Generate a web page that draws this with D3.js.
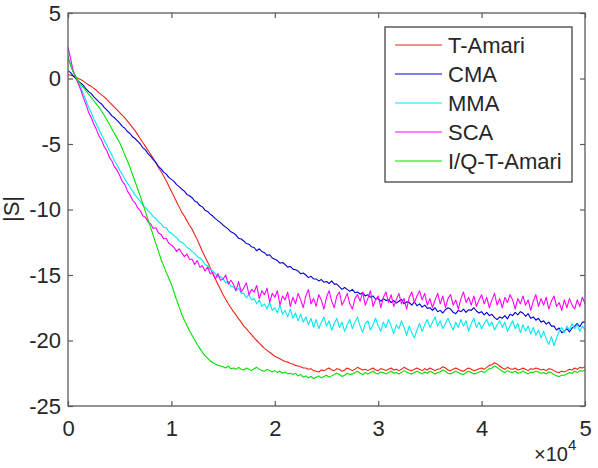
<!DOCTYPE html>
<html>
<head>
<meta charset="utf-8">
<script src="https://cdn.jsdelivr.net/npm/d3@7"></script>
<style>
  html, body { margin: 0; padding: 0; background: #fff; }
  svg { display: block; font-family: "Liberation Sans", Arial, Helvetica, sans-serif; }
</style>
</head>
<body>
<div id="chart"></div>
<script>
// Iteration grid (every 250 iterations, 0 .. 50000)
const iterations = d3.range(0, 50001, 250);

const xTicks = [0, 10000, 20000, 30000, 40000, 50000];
const xTickLabels = ['0', '1', '2', '3', '4', '5'];
const yTicks = [5, 0, -5, -10, -15, -20, -25];

const seriesNames = ['T-Amari', 'CMA', 'MMA', 'SCA', 'I/Q-T-Amari'];
const seriesColors = ['#ec2418', '#0000d8', '#00e8f0', '#ff00ff', '#00e000'];

// |S| values, one row per 1000 iterations
const tAmari = [
  0.3, 0.25, 0.2, 0.1,
  0.0, -0.1, -0.2, -0.35,
  -0.5, -0.6, -0.75, -0.9,
  -1.1, -1.25, -1.4, -1.6,
  -1.8, -2.0, -2.2, -2.4,
  -2.6, -2.8, -3.0, -3.25,
  -3.5, -3.75, -4.0, -4.3,
  -4.6, -4.9, -5.2, -5.5,
  -5.8, -6.1, -6.45, -6.8,
  -7.1, -7.45, -7.8, -8.2,
  -8.6, -9.0, -9.4, -9.8,
  -10.2, -10.5, -10.85, -11.2,
  -11.5, -11.9, -12.3, -12.75,
  -13.2, -13.6, -14.0, -14.45,
  -14.9, -15.3, -15.7, -16.1,
  -16.5, -16.85, -17.2, -17.5,
  -17.8, -18.05, -18.35, -18.6,
  -18.9, -19.1, -19.35, -19.55,
  -19.8, -20.0, -20.2, -20.4,
  -20.6, -20.75, -20.9, -21.05,
  -21.2, -21.3, -21.4, -21.5,
  -21.6, -21.65, -21.75, -21.8,
  -21.9, -21.95, -22.0, -22.1,
  -22.1, -22.2, -22.15, -22.3,
  -22.35, -22.4, -22.25, -22.3,
  -22.2, -22.1, -22.25, -22.3,
  -22.15, -22.2, -22.35, -22.25,
  -22.1, -22.2, -22.3, -22.2,
  -22.05, -22.15, -22.25, -22.2,
  -22.3, -22.2, -22.1, -22.25,
  -22.3, -22.15, -22.2, -22.3,
  -22.2, -22.1, -22.25, -22.2,
  -22.3, -22.2, -22.05, -22.15,
  -22.25, -22.3, -22.2, -22.1,
  -22.2, -22.3, -22.15, -22.25,
  -22.1, -22.2, -22.3, -22.2,
  -22.15, -22.0, -22.1, -22.25,
  -22.3, -22.2, -22.1, -22.2,
  -22.3, -22.35, -22.2, -22.1,
  -22.2, -22.3, -22.25, -22.15,
  -22.1, -22.2, -22.05, -21.9,
  -21.85, -21.7, -21.8, -21.95,
  -22.1, -22.2, -22.05, -22.15,
  -22.2, -22.1, -22.25, -22.2,
  -22.1, -22.2, -22.3, -22.15,
  -22.2, -22.1, -22.15, -22.25,
  -22.2, -22.3, -22.15, -22.2,
  -22.3, -22.4, -22.45, -22.35,
  -22.4, -22.3, -22.2, -22.25,
  -22.1, -22.2, -22.05, -22.1,
  -22.0
];

const cma = [
  0.6, 0.45, 0.2, 0.0,
  -0.2, -0.35, -0.55, -0.8,
  -1.0, -1.15, -1.4, -1.6,
  -1.8, -1.95, -2.2, -2.4,
  -2.6, -2.85, -3.0, -3.2,
  -3.4, -3.65, -3.8, -4.05,
  -4.2, -4.45, -4.6, -4.8,
  -5.0, -5.3, -5.45, -5.75,
  -5.95, -6.2, -6.4, -6.7,
  -6.9, -7.15, -7.3, -7.55,
  -7.7, -7.85, -8.1, -8.25,
  -8.45, -8.6, -8.85, -8.95,
  -9.1, -9.35, -9.45, -9.7,
  -9.8, -10.05, -10.15, -10.35,
  -10.5, -10.7, -10.85, -11.0,
  -11.2, -11.35, -11.5, -11.7,
  -11.8, -11.95, -12.2, -12.25,
  -12.4, -12.6, -12.65, -12.85,
  -12.9, -13.15, -13.0, -13.2,
  -13.3, -13.5, -13.45, -13.7,
  -13.8, -13.9, -14.1, -14.05,
  -14.2, -14.4, -14.35, -14.55,
  -14.6, -14.7, -14.9, -14.85,
  -15.0, -15.2, -15.1, -15.3,
  -15.3, -15.45, -15.35, -15.55,
  -15.5, -15.65, -15.45, -15.7,
  -15.7, -15.9, -16.1, -15.95,
  -16.1, -16.25, -16.1, -16.35,
  -16.3, -16.45, -16.35, -16.6,
  -16.5, -16.7, -16.6, -16.85,
  -16.8, -17.0, -16.8, -16.95,
  -16.9, -17.1, -16.95, -17.15,
  -17.0, -16.85, -17.2, -17.05,
  -17.1, -17.3, -17.05, -17.35,
  -17.2, -17.45, -17.3, -17.55,
  -17.5, -17.7, -17.5, -17.8,
  -17.7, -17.9, -17.65, -17.5,
  -17.6, -17.85, -17.95, -17.7,
  -17.8, -17.6, -17.85, -17.65,
  -17.7, -17.5, -17.75, -17.9,
  -17.8, -18.05, -17.85, -18.1,
  -18.0, -18.25, -18.4, -18.2,
  -18.3, -18.1, -18.35, -18.0,
  -18.1, -17.85, -18.05, -17.8,
  -17.9, -18.15, -17.95, -18.3,
  -18.2, -18.45, -18.3, -18.6,
  -18.5, -18.75, -18.6, -18.9,
  -18.9, -19.2, -19.05, -19.4,
  -19.3, -19.1, -19.35, -19.05,
  -18.9, -18.7, -18.95, -18.6,
  -18.6
];

const mma = [
  1.7, 1.1, 0.5, 0.15,
  -0.2, -0.7, -1.2, -1.7,
  -2.2, -2.6, -3.1, -3.5,
  -3.9, -4.3, -4.7, -5.1,
  -5.5, -5.85, -6.3, -6.6,
  -7.0, -7.3, -7.7, -8.0,
  -8.3, -8.6, -8.9, -9.15,
  -9.4, -9.7, -9.85, -10.1,
  -10.3, -10.55, -10.7, -10.95,
  -11.1, -11.35, -11.4, -11.7,
  -11.8, -12.0, -12.15, -12.4,
  -12.5, -12.65, -12.9, -13.0,
  -13.2, -13.35, -13.6, -13.7,
  -13.9, -14.2, -14.3, -14.6,
  -14.7, -14.9, -15.15, -15.1,
  -15.3, -15.6, -15.5, -15.85,
  -15.9, -16.2, -16.0, -16.4,
  -16.4, -16.75, -16.5, -16.9,
  -16.8, -17.2, -16.9, -17.4,
  -17.2, -17.6, -17.1, -17.7,
  -17.5, -17.9, -17.3, -18.0,
  -17.7, -18.2, -17.6, -18.3,
  -17.9, -18.5, -18.0, -18.6,
  -18.2, -18.8, -18.3, -19.0,
  -18.4, -19.1, -18.6, -18.2,
  -18.9, -18.5, -19.2, -18.7,
  -18.3, -19.0, -18.6, -19.3,
  -18.8, -18.4, -19.1, -18.6,
  -18.2, -18.9, -19.4, -18.7,
  -18.5, -19.2, -18.8, -18.3,
  -18.9, -19.3, -18.6, -19.0,
  -18.4, -18.9, -19.5, -18.8,
  -19.1, -18.5, -19.0, -19.6,
  -18.9, -19.4, -19.8, -19.2,
  -18.7, -19.3, -18.8, -18.4,
  -19.0, -18.6, -18.2, -18.9,
  -18.5, -19.1, -18.7, -18.3,
  -18.8, -19.2, -18.6, -19.0,
  -18.4, -18.9, -18.5, -19.3,
  -18.7, -18.3, -19.0, -18.6,
  -19.1, -18.7, -18.4, -18.9,
  -18.6, -19.2, -18.8, -18.5,
  -19.0, -18.6, -19.3, -18.9,
  -18.5, -19.1, -18.7, -19.4,
  -18.8, -19.3, -18.9, -19.5,
  -19.0, -19.6, -19.2, -19.8,
  -19.3, -19.9, -20.3, -19.7,
  -20.4, -19.8, -19.3, -19.0,
  -19.4, -18.9, -19.2, -18.7,
  -19.1, -18.8, -19.3, -18.9,
  -19.2
];

const sca = [
  2.4, 1.5, 0.6, 0.1,
  -0.4, -0.9, -1.5, -2.0,
  -2.6, -3.0, -3.5, -3.9,
  -4.4, -4.7, -5.2, -5.5,
  -6.0, -6.3, -6.75, -7.0,
  -7.4, -7.85, -8.1, -8.6,
  -8.9, -9.3, -9.5, -9.9,
  -10.1, -10.5, -10.6, -10.95,
  -11.1, -11.45, -11.4, -11.8,
  -11.9, -12.25, -12.2, -12.6,
  -12.7, -12.9, -13.2, -13.0,
  -13.3, -13.6, -13.4, -13.8,
  -13.8, -14.2, -13.9, -14.4,
  -14.3, -14.7, -14.4, -14.9,
  -14.8, -15.3, -14.9, -15.4,
  -15.3, -15.0, -15.7, -15.4,
  -15.7, -16.2, -15.5, -16.3,
  -16.0, -15.6, -16.5, -16.1,
  -16.3, -15.8, -16.8, -16.2,
  -16.5, -16.0, -17.1, -16.4,
  -16.7, -16.2, -17.3, -16.6,
  -16.9, -16.3, -17.4, -16.7,
  -17.2, -16.4, -16.9, -17.5,
  -16.6, -16.1, -17.2, -16.8,
  -17.4, -16.5, -16.9, -17.6,
  -16.7, -16.2, -17.0, -17.5,
  -16.6, -16.3, -17.3, -16.9,
  -16.4, -17.2, -17.6, -16.8,
  -16.5, -17.0, -16.3, -17.3,
  -16.8, -16.2, -17.4, -16.9,
  -16.6, -17.5, -16.7, -16.3,
  -17.1, -16.5, -17.4, -16.9,
  -16.4, -17.2, -16.8, -17.6,
  -16.7, -16.3, -17.1, -16.6,
  -16.2, -16.9, -16.4, -17.3,
  -16.8, -17.5, -16.9, -16.4,
  -17.2, -16.6, -17.5, -16.8,
  -16.5, -17.3, -16.9, -17.6,
  -16.8, -16.3, -17.1, -16.7,
  -17.3, -16.6, -17.4, -16.9,
  -16.5, -17.2, -16.7, -17.5,
  -16.9, -16.4, -17.3, -16.8,
  -17.5, -16.7, -17.1, -16.5,
  -16.9, -17.6, -16.8, -17.2,
  -16.6, -17.3, -16.9, -17.7,
  -17.0, -16.5, -17.4, -16.8,
  -17.3, -16.7, -17.6, -17.0,
  -16.6, -17.4, -17.1, -17.7,
  -16.9, -17.5, -16.8, -17.3,
  -17.6, -16.9, -17.4, -16.7,
  -17.2
];

const iqTAmari = [
  1.6, 1.0, 0.5, 0.1,
  -0.2, -0.45, -0.7, -0.95,
  -1.2, -1.45, -1.7, -1.95,
  -2.2, -2.5, -2.8, -3.15,
  -3.5, -3.85, -4.2, -4.55,
  -4.9, -5.35, -5.85, -6.3,
  -6.8, -7.35, -7.9, -8.45,
  -9.0, -9.6, -10.2, -10.8,
  -11.4, -12.0, -12.6, -13.2,
  -13.8, -14.3, -14.8, -15.25,
  -15.7, -16.3, -16.9, -17.45,
  -18.0, -18.45, -18.85, -19.25,
  -19.6, -19.95, -20.3, -20.6,
  -20.9, -21.15, -21.35, -21.55,
  -21.7, -21.8, -21.9, -21.95,
  -22.0, -22.1, -21.95, -22.15,
  -22.1, -22.2, -22.05, -22.2,
  -22.25, -22.1, -22.2, -22.3,
  -22.15, -22.05, -22.2, -22.3,
  -22.35, -22.2, -22.3, -22.4,
  -22.3, -22.45, -22.35, -22.5,
  -22.4, -22.55, -22.5, -22.6,
  -22.5, -22.7, -22.6, -22.8,
  -22.7, -22.85, -22.75, -22.9,
  -22.8, -22.7, -22.85, -22.75,
  -22.65, -22.8, -22.7, -22.6,
  -22.5, -22.6, -22.75, -22.65,
  -22.5, -22.6, -22.55, -22.45,
  -22.35, -22.5, -22.6, -22.45,
  -22.55, -22.45, -22.35, -22.5,
  -22.55, -22.4, -22.45, -22.55,
  -22.45, -22.35, -22.5, -22.45,
  -22.55, -22.45, -22.3, -22.4,
  -22.5, -22.55, -22.45, -22.35,
  -22.45, -22.55, -22.4, -22.5,
  -22.35, -22.45, -22.55, -22.45,
  -22.4, -22.25, -22.35, -22.5,
  -22.55, -22.45, -22.35, -22.45,
  -22.55, -22.6, -22.45, -22.35,
  -22.45, -22.55, -22.5, -22.4,
  -22.35, -22.45, -22.3, -22.15,
  -22.1, -21.95, -22.05, -22.2,
  -22.35, -22.45, -22.3, -22.4,
  -22.45, -22.35, -22.5, -22.45,
  -22.35, -22.45, -22.55, -22.4,
  -22.45, -22.35, -22.4, -22.5,
  -22.45, -22.55, -22.4, -22.45,
  -22.6, -22.7, -22.75, -22.65,
  -22.65, -22.55, -22.45, -22.5,
  -22.35, -22.45, -22.3, -22.35,
  -22.25
];

const allSeries = [tAmari, cma, mma, sca, iqTAmari];

const width = 598;
const height = 468;
const margin = { top: 13, right: 13, bottom: 62, left: 68 };
const plotW = width - margin.left - margin.right;
const plotH = height - margin.top - margin.bottom;
const textColor = '#262626';
const axisColor = '#5a5a5a';

const svg = d3.select('#chart')
  .append('svg')
  .attr('width', width)
  .attr('height', height);

const x = d3.scaleLinear().domain([0, 50000]).range([0, plotW]);
const y = d3.scaleLinear().domain([-25, 5]).range([plotH, 0]);

const g = svg.append('g')
  .attr('transform', `translate(${margin.left},${margin.top})`);

svg.append('defs').append('clipPath')
  .attr('id', 'plot-clip')
  .append('rect')
  .attr('width', plotW)
  .attr('height', plotH);

// Lines, in the order MATLAB plotted them
const line = d3.line()
  .x((d, i) => x(iterations[i]))
  .y(d => y(d));

g.append('g')
  .attr('clip-path', 'url(#plot-clip)')
  .selectAll('path')
  .data(allSeries)
  .join('path')
  .attr('fill', 'none')
  .attr('stroke', (d, i) => seriesColors[i])
  .attr('stroke-width', 1.1)
  .attr('stroke-linejoin', 'round')
  .attr('d', line);

// Axes with inward ticks on all four sides
const styleAxis = sel => {
  sel.select('.domain').remove();
  sel.selectAll('line').attr('stroke', axisColor).attr('stroke-width', 1.2);
  sel.selectAll('text')
    .attr('fill', textColor)
    .style('font-size', '22px');
};

g.append('g')
  .attr('transform', `translate(0,${plotH})`)
  .call(d3.axisBottom(x).tickValues(xTicks)
    .tickFormat((d, i) => xTickLabels[i])
    .tickSize(-5).tickPadding(14))
  .call(styleAxis);

g.append('g')
  .call(d3.axisTop(x).tickValues(xTicks).tickFormat('').tickSize(-5))
  .call(styleAxis);

// plain hyphen for negatives, like MATLAB
g.append('g')
  .call(d3.axisLeft(y).tickValues(yTicks)
    .tickFormat(d => String(d))
    .tickSize(-5).tickPadding(7))
  .call(styleAxis);

g.append('g')
  .attr('transform', `translate(${plotW},0)`)
  .call(d3.axisRight(y).tickValues(yTicks).tickFormat('').tickSize(-5))
  .call(styleAxis);

g.append('rect')
  .attr('width', plotW)
  .attr('height', plotH)
  .attr('fill', 'none')
  .attr('stroke', axisColor)
  .attr('stroke-width', 1.3);

// y label
svg.append('text')
  .attr('transform', 'translate(19,209) rotate(-90)')
  .attr('text-anchor', 'middle')
  .attr('fill', textColor)
  .style('font-size', '22px')
  .text('|S|');

// x exponent label
const expo = svg.append('text')
  .attr('x', 534)
  .attr('y', 461)
  .attr('fill', textColor)
  .style('font-size', '20px');
expo.append('tspan').text('\u00d710');
expo.append('tspan')
  .attr('dy', -11)
  .style('font-size', '15px')
  .text('4');

// Legend
const legend = svg.append('g').attr('transform', 'translate(385,27)');
legend.append('rect')
  .attr('width', 187)
  .attr('height', 155)
  .attr('fill', '#fff')
  .attr('stroke', '#333')
  .attr('stroke-width', 1.2);

const items = legend.selectAll('g.item')
  .data(seriesNames)
  .join('g')
  .attr('class', 'item')
  .attr('transform', (d, i) => `translate(0,${18 + i * 29})`);

items.append('line')
  .attr('x1', 10)
  .attr('x2', 57)
  .attr('stroke', (d, i) => seriesColors[i])
  .attr('stroke-width', 1.2);

items.append('text')
  .attr('x', 63)
  .attr('dy', '0.35em')
  .attr('fill', textColor)
  .style('font-size', '22px')
  .text(d => d);
</script>
</body>
</html>
